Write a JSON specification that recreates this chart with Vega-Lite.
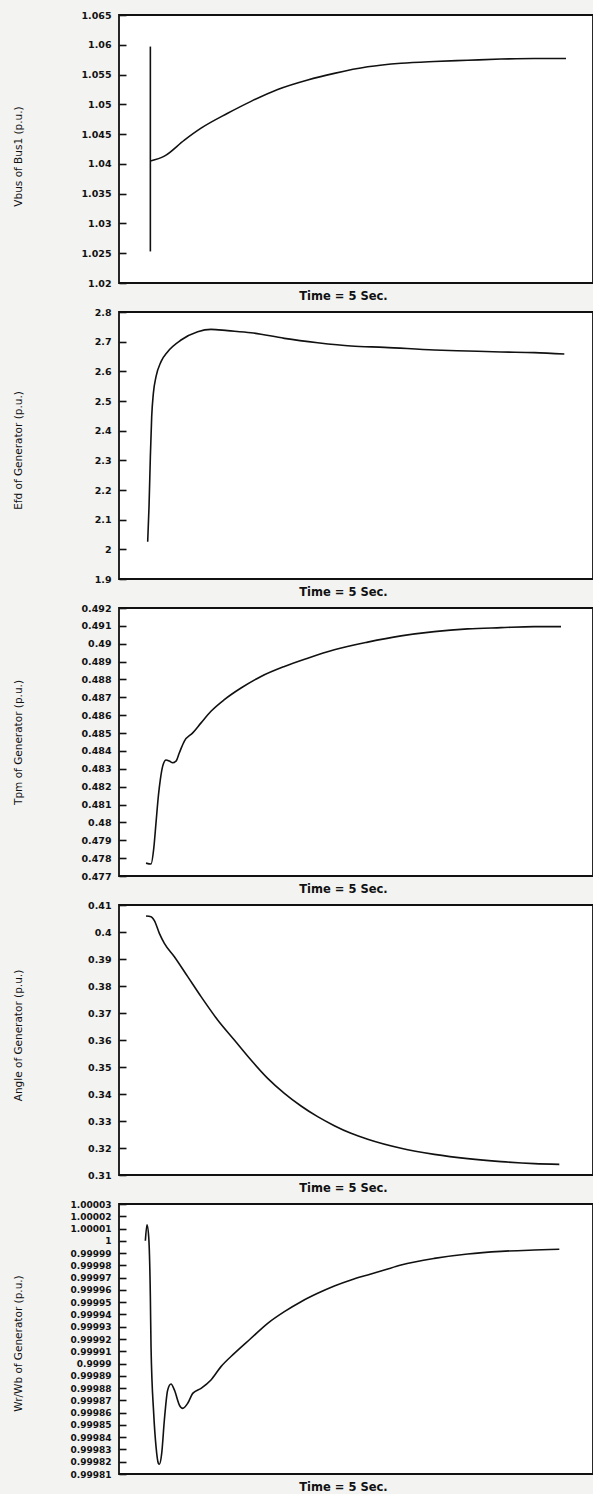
{
  "$schema": "https://vega.github.io/schema/vega-lite/v6.json",
  "padding": {"left": 12, "top": 9, "right": 1, "bottom": 2},
  "background": "#f3f3f1",
  "spacing": 29,
  "bounds": "flush",
  "datasets": {
    "vbus_spike": [{"t": 0.016, "lo": 1.0253, "hi": 1.0597}],
    "vbus": [
      {"i": 2, "t": 0.016, "v": 1.0405},
      {"i": 3, "t": 0.184, "v": 1.0413}, {"i": 4, "t": 0.424, "v": 1.044}, {"i": 5, "t": 0.624, "v": 1.046},
      {"i": 6, "t": 0.943, "v": 1.0485}, {"i": 7, "t": 1.223, "v": 1.0505}, {"i": 8, "t": 1.543, "v": 1.0525},
      {"i": 9, "t": 1.903, "v": 1.0541}, {"i": 10, "t": 2.222, "v": 1.0552}, {"i": 11, "t": 2.622, "v": 1.0563},
      {"i": 12, "t": 3.022, "v": 1.0569}, {"i": 13, "t": 3.421, "v": 1.0572}, {"i": 14, "t": 3.821, "v": 1.0574},
      {"i": 15, "t": 4.221, "v": 1.0576}, {"i": 16, "t": 4.62, "v": 1.0577}, {"i": 17, "t": 5.0, "v": 1.0577}
    ],
    "efd": [
      {"i": 0, "t": -0.016, "v": 2.0258}, {"i": 1, "t": 0.0, "v": 2.1438}, {"i": 2, "t": 0.016, "v": 2.3123},
      {"i": 3, "t": 0.032, "v": 2.4472}, {"i": 4, "t": 0.052, "v": 2.5258}, {"i": 5, "t": 0.084, "v": 2.582},
      {"i": 6, "t": 0.144, "v": 2.6326}, {"i": 7, "t": 0.224, "v": 2.6663}, {"i": 8, "t": 0.384, "v": 2.7056},
      {"i": 9, "t": 0.584, "v": 2.7337}, {"i": 10, "t": 0.743, "v": 2.7416}, {"i": 11, "t": 0.943, "v": 2.7371},
      {"i": 12, "t": 1.223, "v": 2.7303}, {"i": 13, "t": 1.623, "v": 2.7112}, {"i": 14, "t": 2.022, "v": 2.6966},
      {"i": 15, "t": 2.422, "v": 2.6854}, {"i": 16, "t": 2.822, "v": 2.6809}, {"i": 17, "t": 3.421, "v": 2.6719},
      {"i": 18, "t": 3.821, "v": 2.6685}, {"i": 19, "t": 4.221, "v": 2.6652}, {"i": 20, "t": 4.62, "v": 2.6629},
      {"i": 21, "t": 4.98, "v": 2.6584}
    ],
    "tpm": [
      {"i": 0, "t": -0.036, "v": 0.47772}, {"i": 1, "t": 0.024, "v": 0.47767}, {"i": 2, "t": 0.056, "v": 0.47851},
      {"i": 3, "t": 0.084, "v": 0.47999}, {"i": 4, "t": 0.112, "v": 0.48148}, {"i": 5, "t": 0.136, "v": 0.48241},
      {"i": 6, "t": 0.164, "v": 0.48315}, {"i": 7, "t": 0.204, "v": 0.48349}, {"i": 8, "t": 0.244, "v": 0.48343},
      {"i": 9, "t": 0.284, "v": 0.48334}, {"i": 10, "t": 0.324, "v": 0.48343}, {"i": 11, "t": 0.364, "v": 0.4839},
      {"i": 12, "t": 0.424, "v": 0.48455}, {"i": 13, "t": 0.524, "v": 0.48501}, {"i": 14, "t": 0.624, "v": 0.48557},
      {"i": 15, "t": 0.743, "v": 0.48622}, {"i": 16, "t": 0.903, "v": 0.48687}, {"i": 17, "t": 1.103, "v": 0.48752},
      {"i": 18, "t": 1.343, "v": 0.48817}, {"i": 19, "t": 1.623, "v": 0.48873}, {"i": 20, "t": 1.903, "v": 0.48919},
      {"i": 21, "t": 2.222, "v": 0.48966}, {"i": 22, "t": 2.622, "v": 0.49009}, {"i": 23, "t": 3.022, "v": 0.49044},
      {"i": 24, "t": 3.421, "v": 0.49068}, {"i": 25, "t": 3.821, "v": 0.49083}, {"i": 26, "t": 4.221, "v": 0.4909},
      {"i": 27, "t": 4.62, "v": 0.49096}, {"i": 28, "t": 4.94, "v": 0.49096}
    ],
    "angle": [
      {"i": 0, "t": -0.036, "v": 0.40593}, {"i": 1, "t": 0.024, "v": 0.40568}, {"i": 2, "t": 0.064, "v": 0.4042},
      {"i": 3, "t": 0.124, "v": 0.39951}, {"i": 4, "t": 0.184, "v": 0.3958}, {"i": 5, "t": 0.304, "v": 0.39086},
      {"i": 6, "t": 0.464, "v": 0.38346}, {"i": 7, "t": 0.624, "v": 0.37605}, {"i": 8, "t": 0.823, "v": 0.36741},
      {"i": 9, "t": 1.023, "v": 0.36}, {"i": 10, "t": 1.223, "v": 0.35259}, {"i": 11, "t": 1.423, "v": 0.3458},
      {"i": 12, "t": 1.623, "v": 0.34025}, {"i": 13, "t": 1.823, "v": 0.33556}, {"i": 14, "t": 2.022, "v": 0.3316},
      {"i": 15, "t": 2.222, "v": 0.32827}, {"i": 16, "t": 2.422, "v": 0.32543}, {"i": 17, "t": 2.622, "v": 0.32321},
      {"i": 18, "t": 3.022, "v": 0.31988}, {"i": 19, "t": 3.421, "v": 0.31765}, {"i": 20, "t": 3.821, "v": 0.31605},
      {"i": 21, "t": 4.221, "v": 0.31494}, {"i": 22, "t": 4.62, "v": 0.3142}, {"i": 23, "t": 4.92, "v": 0.31395}
    ],
    "wr": [
      {"i": 0, "t": -0.044, "v": 1.0}, {"i": 1, "t": -0.024, "v": 1.000013}, {"i": 2, "t": -0.004, "v": 1.0000034},
      {"i": 3, "t": 0.016, "v": 0.9999545}, {"i": 4, "t": 0.024, "v": 0.9999138}, {"i": 5, "t": 0.056, "v": 0.9998594},
      {"i": 6, "t": 0.084, "v": 0.9998323}, {"i": 7, "t": 0.112, "v": 0.9998187}, {"i": 8, "t": 0.124, "v": 0.9998179},
      {"i": 9, "t": 0.152, "v": 0.9998268}, {"i": 10, "t": 0.184, "v": 0.999854}, {"i": 11, "t": 0.224, "v": 0.9998785},
      {"i": 12, "t": 0.264, "v": 0.9998833}, {"i": 13, "t": 0.304, "v": 0.9998785}, {"i": 14, "t": 0.364, "v": 0.9998662},
      {"i": 15, "t": 0.404, "v": 0.9998635}, {"i": 16, "t": 0.464, "v": 0.9998676}, {"i": 17, "t": 0.524, "v": 0.9998757},
      {"i": 18, "t": 0.624, "v": 0.9998798}, {"i": 19, "t": 0.743, "v": 0.9998866}, {"i": 20, "t": 0.863, "v": 0.9998975},
      {"i": 21, "t": 1.023, "v": 0.9999083}, {"i": 22, "t": 1.223, "v": 0.9999206}, {"i": 23, "t": 1.423, "v": 0.9999328},
      {"i": 24, "t": 1.623, "v": 0.9999423}, {"i": 25, "t": 1.823, "v": 0.9999504}, {"i": 26, "t": 2.022, "v": 0.9999572},
      {"i": 27, "t": 2.222, "v": 0.9999632}, {"i": 28, "t": 2.422, "v": 0.9999681}, {"i": 29, "t": 2.622, "v": 0.9999722},
      {"i": 30, "t": 2.822, "v": 0.9999762}, {"i": 31, "t": 3.022, "v": 0.9999803}, {"i": 32, "t": 3.421, "v": 0.9999857},
      {"i": 33, "t": 3.821, "v": 0.9999893}, {"i": 34, "t": 4.221, "v": 0.9999914}, {"i": 35, "t": 4.62, "v": 0.9999925},
      {"i": 36, "t": 4.92, "v": 0.9999931}
    ]
  },
  "vconcat": [
    {
      "width": 474, "height": 268,
      "layer": [
        {
          "data": {"name": "vbus_spike"},
          "mark": {"type": "rule", "color": "#111111", "strokeWidth": 1.6},
          "encoding": {
            "x": {"field": "t", "type": "quantitative", "scale": {"domain": [-0.36, 5.324], "nice": false, "zero": false},
                  "axis": {"labels": false, "ticks": false, "title": "Time = 5 Sec.", "titleX": 224, "titleY": 16, "titleAlign": "center", "titleBaseline": "alphabetic"}},
            "y": {"field": "lo", "type": "quantitative", "scale": {"domain": [1.02, 1.065], "nice": false, "zero": false},
                  "axis": {"values": [1.02, 1.025, 1.03, 1.035, 1.04, 1.045, 1.05, 1.055, 1.06, 1.065], "format": ".3~f",
                           "title": "Vbus of Bus1 (p.u.)", "titleY": 141}},
            "y2": {"field": "hi"}
          }
        },
        {
          "data": {"name": "vbus"},
          "mark": {"type": "line", "interpolate": "monotone"},
          "encoding": {
            "x": {"field": "t", "type": "quantitative", "scale": {"domain": [-0.36, 5.324], "nice": false, "zero": false},
                  "axis": {"labels": false, "ticks": false, "title": "Time = 5 Sec.", "titleX": 224, "titleY": 16, "titleAlign": "center", "titleBaseline": "alphabetic"}},
            "y": {"field": "v", "type": "quantitative", "scale": {"domain": [1.02, 1.065], "nice": false, "zero": false},
                  "axis": {"values": [1.02, 1.025, 1.03, 1.035, 1.04, 1.045, 1.05, 1.055, 1.06, 1.065], "format": ".3~f",
                           "title": "Vbus of Bus1 (p.u.)", "titleY": 141}},
            "order": {"field": "i", "type": "quantitative"}
          }
        }
      ]
    },
    {
      "width": 474, "height": 267,
      "data": {"name": "efd"},
      "mark": {"type": "line", "interpolate": "monotone"},
      "encoding": {
        "x": {"field": "t", "type": "quantitative", "scale": {"domain": [-0.36, 5.324], "nice": false, "zero": false},
              "axis": {"labels": false, "ticks": false, "title": "Time = 5 Sec.", "titleX": 224, "titleY": 16, "titleAlign": "center", "titleBaseline": "alphabetic"}},
        "y": {"field": "v", "type": "quantitative", "scale": {"domain": [1.9, 2.8], "nice": false, "zero": false},
              "axis": {"values": [1.9, 2.0, 2.1, 2.2, 2.3, 2.4, 2.5, 2.6, 2.7, 2.8], "format": ".1~f",
                       "title": "Efd of Generator (p.u.)", "titleY": 138}},
        "order": {"field": "i", "type": "quantitative"}
      }
    },
    {
      "width": 474, "height": 268,
      "data": {"name": "tpm"},
      "mark": {"type": "line", "interpolate": "monotone"},
      "encoding": {
        "x": {"field": "t", "type": "quantitative", "scale": {"domain": [-0.36, 5.324], "nice": false, "zero": false},
              "axis": {"labels": false, "ticks": false, "title": "Time = 5 Sec.", "titleX": 224, "titleY": 16, "titleAlign": "center", "titleBaseline": "alphabetic"}},
        "y": {"field": "v", "type": "quantitative", "scale": {"domain": [0.477, 0.492], "nice": false, "zero": false},
              "axis": {"values": [0.477, 0.478, 0.479, 0.48, 0.481, 0.482, 0.483, 0.484, 0.485, 0.486, 0.487, 0.488, 0.489, 0.49, 0.491, 0.492], "format": ".3~f",
                       "title": "Tpm of Generator (p.u.)", "titleY": 134}},
        "order": {"field": "i", "type": "quantitative"}
      }
    },
    {
      "width": 474, "height": 270,
      "data": {"name": "angle"},
      "mark": {"type": "line", "interpolate": "monotone"},
      "encoding": {
        "x": {"field": "t", "type": "quantitative", "scale": {"domain": [-0.36, 5.324], "nice": false, "zero": false},
              "axis": {"labels": false, "ticks": false, "title": "Time = 5 Sec.", "titleX": 224, "titleY": 16, "titleAlign": "center", "titleBaseline": "alphabetic"}},
        "y": {"field": "v", "type": "quantitative", "scale": {"domain": [0.31, 0.41], "nice": false, "zero": false},
              "axis": {"values": [0.31, 0.32, 0.33, 0.34, 0.35, 0.36, 0.37, 0.38, 0.39, 0.4, 0.41], "format": ".2~f",
                       "title": "Angle of Generator (p.u.)", "titleY": 130}},
        "order": {"field": "i", "type": "quantitative"}
      }
    },
    {
      "width": 474, "height": 270,
      "data": {"name": "wr"},
      "mark": {"type": "line", "interpolate": "monotone"},
      "encoding": {
        "x": {"field": "t", "type": "quantitative", "scale": {"domain": [-0.36, 5.324], "nice": false, "zero": false},
              "axis": {"labels": false, "ticks": false, "title": "Time = 5 Sec.", "titleX": 224, "titleY": 16, "titleAlign": "center", "titleBaseline": "alphabetic"}},
        "y": {"field": "v", "type": "quantitative", "scale": {"domain": [0.99981, 1.00003], "nice": false, "zero": false},
              "axis": {"values": [0.99981, 0.99982, 0.99983, 0.99984, 0.99985, 0.99986, 0.99987, 0.99988, 0.99989, 0.9999, 0.99991, 0.99992, 0.99993, 0.99994, 0.99995, 0.99996, 0.99997, 0.99998, 0.99999, 1, 1.00001, 1.00002, 1.00003], "format": ".5~f",
                       "title": "Wr/Wb of Generator (p.u.)", "titleY": 139, "labelFontSize": 9}},
        "order": {"field": "i", "type": "quantitative"}
      }
    }
  ],
  "config": {
    "view": {"stroke": "#111111", "strokeWidth": 1.8, "fill": "white"},
    "axis": {"grid": false, "domain": false, "labelOverlap": false, "labelFlush": false,
             "labelFont": "DejaVu Sans", "labelFontWeight": "bold", "labelFontSize": 9.5, "labelColor": "#111111"},
    "axisY": {"ticks": true, "tickColor": "#111111", "tickWidth": 1.6, "tickOpacity": 1, "offset": -7, "tickSize": 7, "labelPadding": 8,
              "titleX": -108, "titleAngle": 270, "titleAlign": "center", "titleBaseline": "middle",
              "titleFont": "DejaVu Sans", "titleFontWeight": "normal", "titleFontSize": 10.5, "titleColor": "#111111"},
    "axisX": {"titleFont": "DejaVu Sans", "titleFontWeight": "bold", "titleFontSize": 11.5, "titleColor": "#111111"},
    "line": {"color": "#111111", "strokeWidth": 1.6}
  }
}
